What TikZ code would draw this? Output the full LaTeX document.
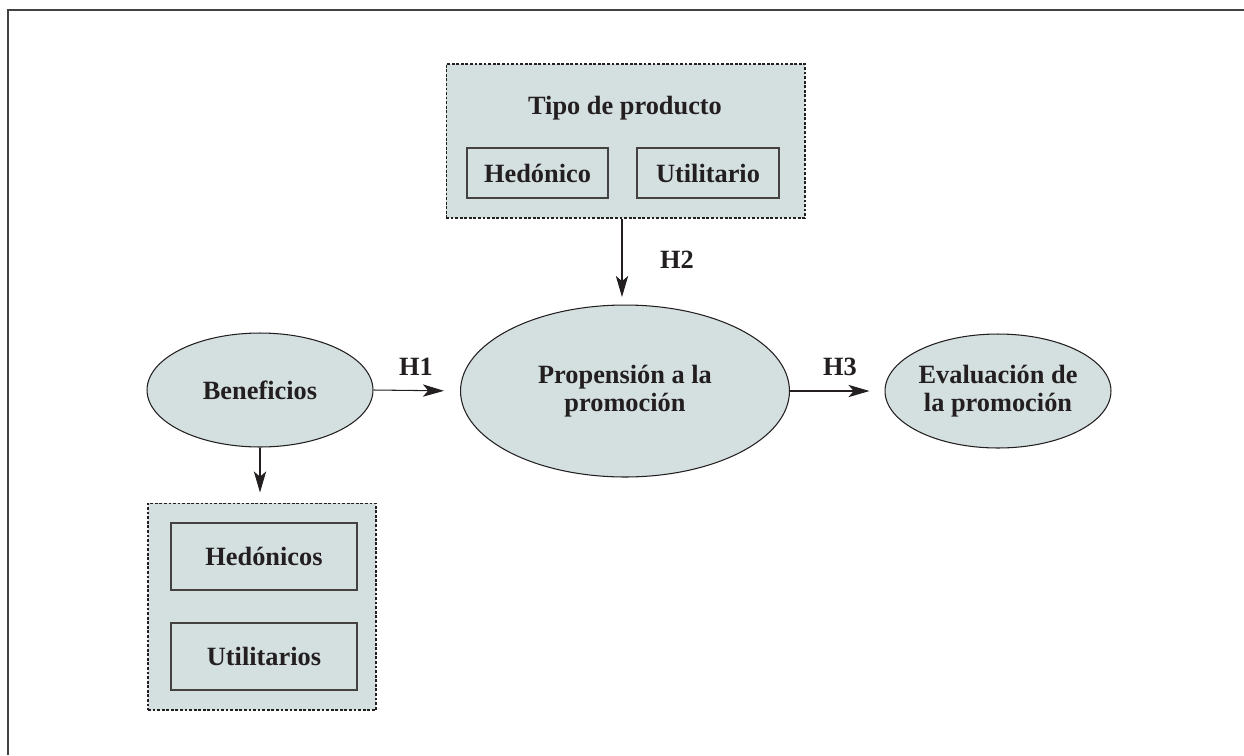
\documentclass[tikz,border=0pt]{standalone}
\usepackage{fontspec}
\setmainfont{Liberation Serif}
\usetikzlibrary{shapes.geometric,arrows.meta}
\definecolor{boxfill}{RGB}{212,223,223}
\definecolor{ink}{RGB}{35,31,32}
\tikzset{
  container/.style={draw=ink, fill=boxfill, line width=0.6pt, dash pattern=on 1.6pt off 1pt},
  itembox/.style={draw=ink!85, line width=0.8pt, text=ink},
  latent/.style={ellipse, draw=ink, fill=boxfill, line width=0.6pt, text=ink, align=center, inner sep=0pt},
  hyp/.style={text=ink, inner sep=0pt},
  link/.style={draw=ink, line width=0.6pt, -{Stealth[length=12pt, width=7pt, inset=3pt]}},
}
\begin{document}
\begin{tikzpicture}[x=0.02cm, y=-0.02cm, font=\fontsize{15}{16}\selectfont\bfseries]
    \useasboundingbox (0,0) rectangle (1244,755);
    % frame of the figure
    \draw[ink!85, line width=0.8pt] (8,755) -- (8,10) -- (1244,10);
    % moderator: product type
    \node[container, minimum width=7.18cm, minimum height=3.08cm] (tipo) at (625.5,141) {};
    \node[hyp] (tipolbl) at (625,108) {Tipo de producto};
    \node[itembox, minimum width=2.82cm, minimum height=1cm] (hed) at (537.5,173) {Hedónico};
    \node[itembox, minimum width=2.84cm, minimum height=1cm] (util) at (708,173) {Utilitario};
    % latent constructs
    \node[latent, minimum width=4.52cm, minimum height=2.28cm] (benef) at (260,390) {Beneficios};
    \node[latent, minimum width=6.58cm, minimum height=3.44cm] (prop) at (625,391) {Propensión a la\\promoción};
    \node[latent, minimum width=4.52cm, minimum height=2.28cm] (eval) at (998,391) {Evaluación de\\la promoción};
    % kinds of benefits
    \node[container, minimum width=4.56cm, minimum height=4.14cm] (tipos) at (262,606.5) {};
    \node[itembox, minimum width=3.72cm, minimum height=1.34cm] (hedos) at (264,556.5) {Hedónicos};
    \node[itembox, minimum width=3.72cm, minimum height=1.34cm] (utils) at (264,656.5) {Utilitarios};
    % hypotheses
    \draw[link, shorten >=0.16cm] (tipo.south -| 622,0) -- (622,305);
    \draw[link, shorten >=0.32cm] (benef.east) -- (prop.west);
    \draw[link, shorten >=0.3cm] (prop.east) -- (eval.west);
    \draw[link, shorten >=0.2cm] (benef.south) -- (tipos.north -| benef.south);
    \node[hyp] (h1) at (416,367) {H1};
    \node[hyp] (h2) at (677,260) {H2};
    \node[hyp] (h3) at (840,367) {H3};
\end{tikzpicture}
\end{document}
